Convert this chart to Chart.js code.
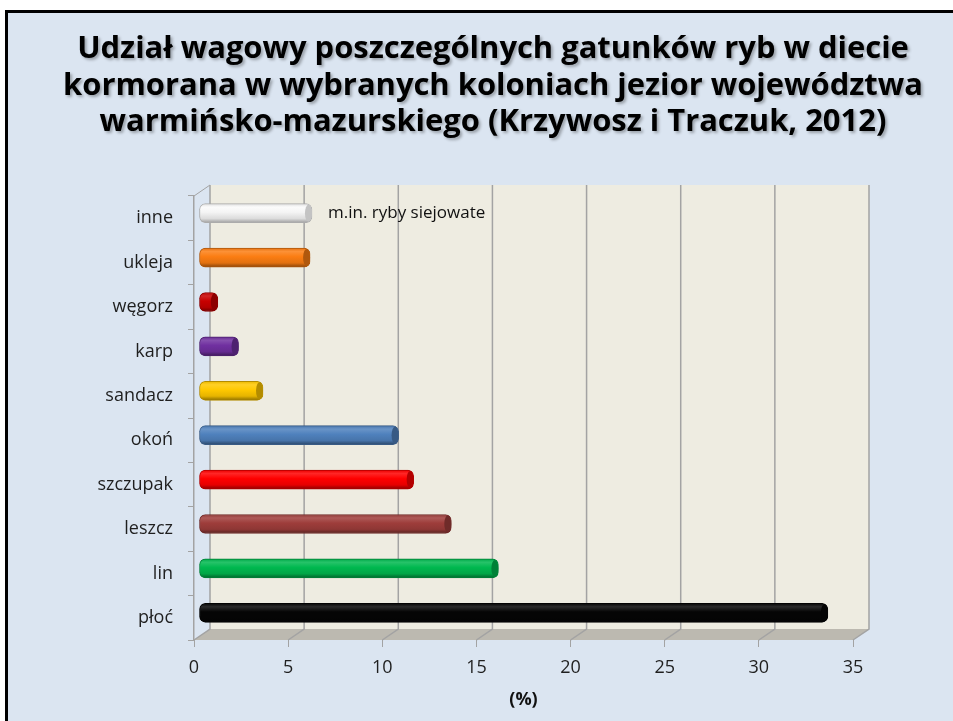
<!DOCTYPE html>
<html lang="pl">
<head>
<meta charset="utf-8">
<title>Udział wagowy gatunków ryb w diecie kormorana</title>
<script src="https://cdn.jsdelivr.net/npm/chart.js@4"></script>
<style>
  html, body { margin: 0; width: 953px; height: 721px; background: #ffffff; overflow: hidden; }
  #slide {
    position: absolute; left: 5px; top: 10px; right: -40px; bottom: -40px;
    border-left: 3px solid #000; border-top: 3px solid #000;
    background: #dbe5f1;
  }
  #chart { position: absolute; left: 0; top: 0; }
</style>
</head>
<body>
<div id="slide"></div>
<canvas id="chart" width="953" height="721"></canvas>
<script>
"use strict";

// data
const titleLines = [
  "Udział wagowy poszczególnych gatunków ryb w diecie",
  "kormorana w wybranych koloniach jezior województwa",
  "warmińsko-mazurskiego (Krzywosz i Traczuk, 2012)"
];
const species = ["inne", "ukleja", "węgorz", "karp", "sandacz", "okoń", "szczupak", "leszcz", "lin", "płoć"];
const shares = [6.0, 5.9, 1.0, 2.1, 3.4, 10.6, 11.4, 13.4, 15.9, 33.4];
const barColors = ["#f4f4f4", "#fb7d12", "#c80000", "#7030a0", "#ffc800", "#4f81bd", "#ff0000", "#9e3d3b", "#00b84f", "#050505"];
const xTicks = [0, 5, 10, 15, 20, 25, 30, 35];
const axisTitle = "(%)";
const noteText = "m.in. ryby siejowate";

const chartEl = document.getElementById("chart");
const labelFont = { family: "'Open Sans', sans-serif", size: 18 };
const depthX = 16, depthY = -11;   // back wall offset
const barShiftX = 5, barShiftY = -5;

// mix a hex colour with white (amt > 0) or black (amt < 0)
function shade(hex, amt) {
  let r = parseInt(hex.slice(1, 3), 16), g = parseInt(hex.slice(3, 5), 16), b = parseInt(hex.slice(5, 7), 16);
  const t = amt > 0 ? 255 : 0, p = Math.abs(amt);
  r = Math.round(r + (t - r) * p); g = Math.round(g + (t - g) * p); b = Math.round(b + (t - b) * p);
  return "rgb(" + r + "," + g + "," + b + ")";
}

// cylinder look: vertical gradient across each bar
function cylinderFill(context) {
  const chart = context.chart;
  const base = barColors[context.dataIndex];
  if (!chart.chartArea || !chart.scales.y) return base;
  const cy = chart.scales.y.getPixelForValue(context.dataIndex);
  const g = chart.ctx.createLinearGradient(0, cy - 9.5, 0, cy + 9.5);
  const white = base === "#f4f4f4";
  g.addColorStop(0, shade(base, -0.08));
  g.addColorStop(0.18, shade(base, white ? 0.6 : 0.15));
  g.addColorStop(0.45, base);
  g.addColorStop(0.78, shade(base, -0.1));
  g.addColorStop(1, shade(base, white ? -0.35 : -0.45));
  return g;
}

// walls, floor and grid of the 3D box
const boxPlugin = {
  id: "box3d",
  beforeDraw(chart) {
    const { ctx, chartArea: a, scales: { x } } = chart;
    ctx.save();
    ctx.fillStyle = "#eeece1";
    ctx.fillRect(a.left + depthX, a.top + depthY, a.right - a.left, a.bottom - a.top);
    ctx.fillStyle = "#bcb9b0";
    ctx.beginPath();
    ctx.moveTo(a.left, a.bottom);
    ctx.lineTo(a.right, a.bottom);
    ctx.lineTo(a.right + depthX, a.bottom + depthY);
    ctx.lineTo(a.left + depthX, a.bottom + depthY);
    ctx.closePath();
    ctx.fill();
    ctx.strokeStyle = "#a3a3a3";
    ctx.lineWidth = 1.5;
    xTicks.forEach(v => {
      const px = x.getPixelForValue(v);
      ctx.beginPath();
      ctx.moveTo(px + depthX, a.top + depthY);
      ctx.lineTo(px + depthX, a.bottom + depthY);
      ctx.lineTo(px, a.bottom);
      ctx.stroke();
    });
    ctx.lineWidth = 1;
    ctx.beginPath();
    ctx.moveTo(a.left, a.top);
    ctx.lineTo(a.left + depthX, a.top + depthY);
    ctx.stroke();
    ctx.restore();
  },
  beforeDatasetsDraw(chart) {
    chart.ctx.save();
    chart.ctx.translate(barShiftX, barShiftY);
  },
  afterDatasetsDraw(chart) {
    const ctx = chart.ctx;
    // darker end caps of the cylinders
    chart.getDatasetMeta(0).data.forEach((bar, i) => {
      const h = bar.height / 2 - 1;
      ctx.fillStyle = shade(barColors[i], barColors[i] === "#f4f4f4" ? -0.2 : -0.3);
      ctx.beginPath();
      ctx.ellipse(bar.x - 3.5, bar.y, 3.5, h, 0, 0, Math.PI * 2);
      ctx.fill();
    });
    // note next to the "inne" bar
    const first = chart.getDatasetMeta(0).data[0];
    ctx.fillStyle = "#111";
    ctx.font = "17px 'Open Sans', sans-serif";
    ctx.textBaseline = "middle";
    ctx.fillText(noteText, first.x + 16, first.y);
    ctx.restore();
  },
  afterDraw(chart) {
    const ctx = chart.ctx;
    ctx.save();
    let size = 30;
    ctx.font = "bold " + size + "px 'Open Sans', sans-serif";
    const widest = Math.max(...titleLines.map(t => ctx.measureText(t).width));
    size = size * 860 / widest;
    ctx.font = "bold " + size.toFixed(2) + "px 'Open Sans', sans-serif";
    ctx.textAlign = "center";
    ctx.textBaseline = "alphabetic";
    ctx.fillStyle = "#000";
    ctx.shadowColor = "rgba(0,0,0,0.3)";
    ctx.shadowOffsetX = 2;
    ctx.shadowOffsetY = 2;
    ctx.shadowBlur = 3;
    titleLines.forEach((t, i) => ctx.fillText(t, 493, 58 + i * 36.5));
    ctx.restore();
  }
};

function init() {
  new Chart(chartEl, {
    type: "bar",
    data: {
      labels: species,
      datasets: [{
        data: shares,
        backgroundColor: cylinderFill,
        borderColor: barColors.map(c => shade(c, -0.3)),
        borderWidth: 1,
        borderRadius: 6,
        borderSkipped: false,
        barThickness: 19
      }]
    },
    options: {
      responsive: false,
      animation: false,
      indexAxis: "y",
      layout: { padding: { top: 196, right: 100, bottom: 0, left: 0 } },
      plugins: { legend: { display: false }, tooltip: { enabled: false } },
      scales: {
        x: {
          min: 0,
          max: 35,
          afterBuildTicks: s => { s.ticks = xTicks.map(v => ({ value: v })); },
          ticks: { padding: 10, color: "#1f1f1f", font: labelFont },
          grid: { drawOnChartArea: false, tickLength: 7, color: "#a3a3a3" },
          border: { display: false },
          title: { display: true, text: axisTitle, color: "#111", font: { family: "'Open Sans', sans-serif", size: 18, weight: "bold" }, padding: { top: 0, bottom: 10 } },
          afterFit: s => { s.height = 81; }
        },
        y: {
          ticks: { padding: 15, color: "#1f1f1f", font: labelFont },
          grid: { drawOnChartArea: false, tickLength: 6, color: "#a3a3a3" },
          border: { display: true, color: "#a3a3a3", width: 1.5 },
          afterFit: s => { s.width = 194; }
        }
      }
    },
    plugins: [boxPlugin]
  });
}

Promise.all([
  document.fonts.load("18px 'Open Sans'"),
  document.fonts.load("bold 18px 'Open Sans'")
]).then(init, init);
</script>
</body>
</html>
